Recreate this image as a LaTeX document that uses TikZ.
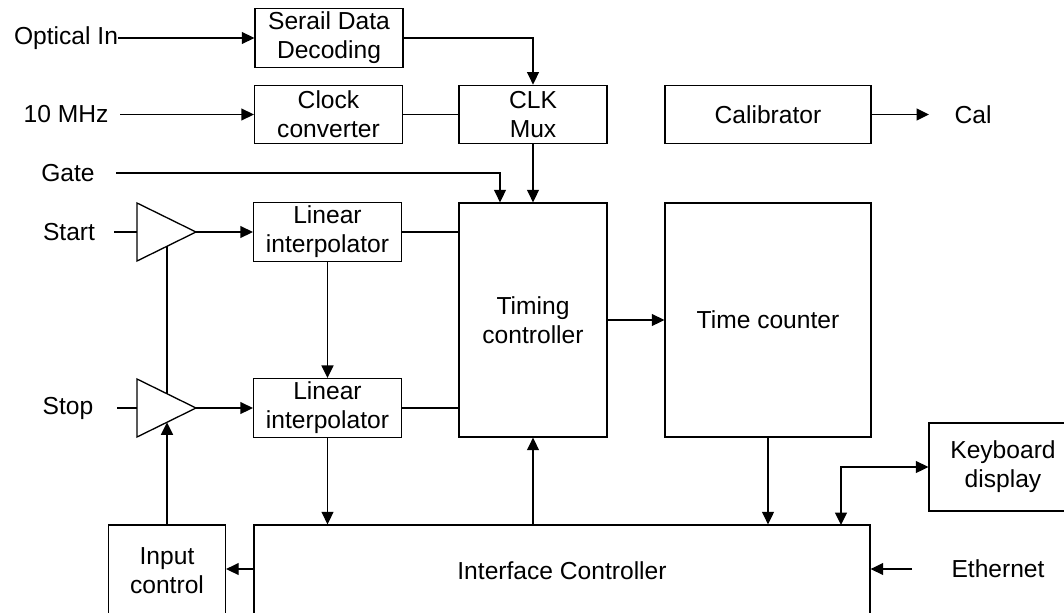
\documentclass[tikz,border=0pt]{standalone}
\usepackage{fontspec}
\setmainfont{Liberation Sans}
\usetikzlibrary{arrows.meta, positioning, calc}
\tikzset{
  every picture/.style={line width=0.75pt, font=\fontsize{14}{16.4}\selectfont},
  blk/.style={draw, align=center, inner sep=2pt, minimum width=#1, minimum height=1.17cm},
  blk/.default=2.96cm,
  arrow/.style={-{Triangle[length=2.5mm, width=2.4mm]}},
  dblarrow/.style={{Triangle[length=2.5mm, width=2.4mm]}-{Triangle[length=2.5mm, width=2.4mm]}},
  lbl/.style={inner sep=0pt},
}

\begin{document}
\begin{tikzpicture}
  \clip (0,0) rectangle (21.28,-12.24);
  % blocks
  \node[blk] (sdd) at (6.58,-0.76) {Serail Data\\Decoding};
  \node[blk] (clk) at (6.57,-2.29) {Clock\\converter};
  \node[blk] (mux) at (10.66,-2.29) {CLK\\Mux};
  \node[blk=4.12cm] (cal) at (15.36,-2.29) {Calibrator};
  \node[blk, minimum height=4.68cm] (tc) at (10.66,-6.4) {Timing\\controller};
  \node[blk=4.12cm, minimum height=4.68cm] (cnt) at (15.36,-6.4) {Time counter};
  \node[blk] (li1) at (6.55,-4.64) {Linear\\interpolator};
  \node[blk] (li2) at (6.55,-8.16) {Linear\\interpolator};
  \node[blk=2.34cm, minimum height=1.84cm] (inp) at (3.34,-11.42) {Input\\control};
  \node[blk=12.32cm, minimum height=1.84cm] (ifc) at (11.24,-11.42) {Interface Controller};
  \node[blk, minimum height=1.76cm] (kbd) at (20.06,-9.34) {Keyboard\\display};
  % signal names
  \node[lbl] (opt) at (1.32,-0.76) {Optical In};
  \node[lbl] (mhz) at (1.32,-2.29) {10 MHz};
  \node[lbl] (gate) at (1.36,-3.46) {Gate};
  \node[lbl] (start) at (1.38,-4.64) {Start};
  \node[lbl] (stop) at (1.36,-8.16) {Stop};
  \node[lbl] (calout) at (19.46,-2.29) {Cal};
  \node[lbl] (eth) at (19.96,-11.38) {Ethernet};
  % input amplifiers
  \coordinate (amp1) at (3.92,-4.64);
  \coordinate (amp2) at (3.92,-8.16);
  \draw (amp1) -- ++(-1.18,0.58) -- ++(0,-1.16) -- cycle;
  \draw (amp2) -- ++(-1.18,0.58) -- ++(0,-1.16) -- cycle;
  \coordinate (amp1in) at (2.74,-4.64);
  \coordinate (amp2in) at (2.74,-8.16);
  \coordinate (amp1lo) at (3.34,-4.926);
  \coordinate (amp2up) at (3.34,-7.874);
  \coordinate (amp2lo) at (3.34,-8.446);
  % free ends
  \coordinate (optL) at (2.36,-0.76);
  \coordinate (mhzL) at (2.40,-2.29);
  \coordinate (gateL) at (2.32,-3.46);
  \coordinate (startL) at (2.28,-4.64);
  \coordinate (stopL) at (2.34,-8.16);
  \coordinate (calR) at (18.58,-2.29);
  \coordinate (ethR) at (18.24,-11.38);
  \coordinate (kbdx) at (16.82,-10.5);
  % connections
  \draw[arrow] (optL) -- (sdd.west);
  \draw[arrow] (mhzL) -- (clk.west);
  \draw[arrow] (sdd.east) -| (mux.north);
  \draw (clk.east) -- (mux.west);
  \draw[arrow] (mux.south) -- (tc.north);
  \draw[arrow] (gateL) -| ([xshift=-0.66cm]tc.north);
  \draw[arrow] (cal.east) -- (calR);
  \draw (startL) -- (amp1in);
  \draw (stopL) -- (amp2in);
  \draw[arrow] (amp1) -- (li1.west);
  \draw[arrow] (amp2) -- (li2.west);
  \draw (amp1lo) -- (amp2up);
  \draw (li1.east) -- (li1.east -| tc.west);
  \draw (li2.east) -- (li2.east -| tc.west);
  \draw[arrow] (li1.south) -- (li2.north);
  \draw[arrow] (tc.east) -- (cnt.west);
  \draw[arrow] (inp.north) -- (amp2lo);
  \draw[arrow] (ifc.west |- ethR) -- (inp.east |- ethR);
  \draw[arrow] (li2.south) -- (li2.south |- ifc.north);
  \draw[arrow] (ifc.north -| tc.south) -- (tc.south);
  \draw[arrow] (cnt.south) -- (cnt.south |- ifc.north);
  \draw[dblarrow] (kbdx) |- (kbd.west);
  \draw[arrow] (ethR) -- (ifc.east |- ethR);
\end{tikzpicture}
\end{document}
